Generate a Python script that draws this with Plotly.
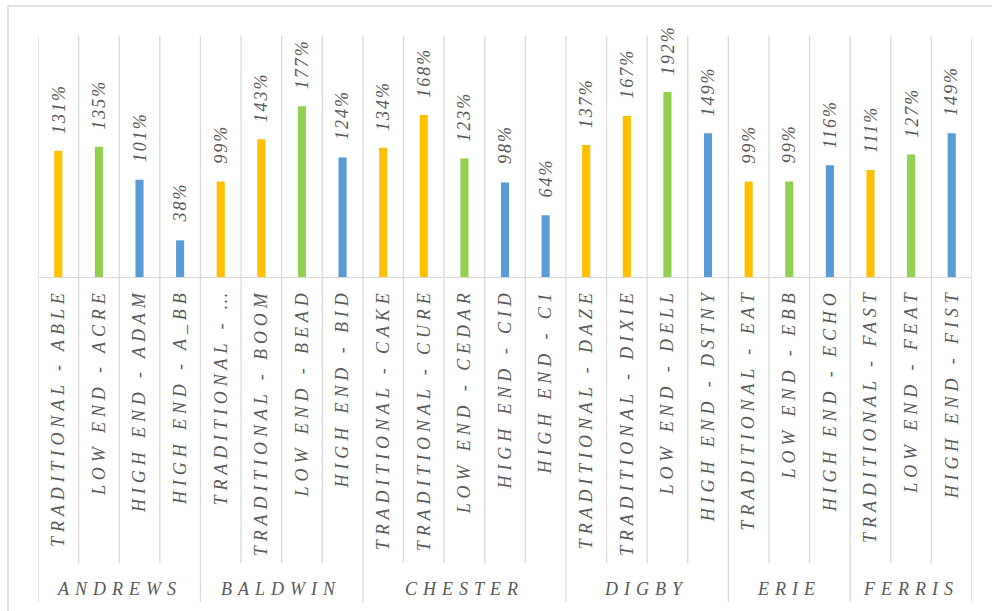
import plotly.graph_objects as go

# ---- data ----
groups = ["ANDREWS", "BALDWIN", "CHESTER", "DIGBY", "ERIE", "FERRIS"]
group_sizes = [4, 4, 5, 4, 3, 3]
products = [
    "TRADITIONAL - ABLE", "LOW END - ACRE", "HIGH END - ADAM", "HIGH END - A_BB",
    "TRADITIONAL - …", "TRADITIONAL - BOOM", "LOW END - BEAD", "HIGH END - BID",
    "TRADITIONAL - CAKE", "TRADITIONAL - CURE", "LOW END - CEDAR", "HIGH END - CID", "HIGH END - C1",
    "TRADITIONAL - DAZE", "TRADITIONAL - DIXIE", "LOW END - DELL", "HIGH END - DSTNY",
    "TRADITIONAL - EAT", "LOW END - EBB", "HIGH END - ECHO",
    "TRADITIONAL - FAST", "LOW END - FEAT", "HIGH END - FIST",
]
values = [1.31, 1.35, 1.01, 0.38,
          0.99, 1.43, 1.77, 1.24,
          1.34, 1.68, 1.23, 0.98, 0.64,
          1.37, 1.67, 1.92, 1.49,
          0.99, 0.99, 1.16,
          1.11, 1.27, 1.49]

seg_colors = {"TRADITIONAL": "#FFC000", "LOW END": "#92D050", "HIGH END": "#5B9BD5"}
colors = [seg_colors[p.split(" - ")[0]] for p in products]

FONT = "Times New Roman"
GRAY = "#595959"
LINE = "#D9D9D9"

W, H = 992, 611
L, R, T, B = 38, 20, 36, 334
plot_h = H - T - B  # px


def py(pix):
    """pixel row -> paper y"""
    return (H - B - pix) / plot_h


fig = go.Figure()
fig.add_trace(go.Bar(
    x=products, y=values, marker=dict(color=colors, line=dict(width=0)),
    width=0.2, hoverinfo="skip",
))

annotations = []
# data labels
for p, v in zip(products, values):
    annotations.append(dict(
        x=p, y=v, xref="x", yref="y", text=f"{round(v*100)}%", textangle=-90,
        showarrow=False, yanchor="bottom", xanchor="center", yshift=19,
        font=dict(family=FONT, size=18, color=GRAY, style="italic"),
    ))

shapes = []
n = len(products)
boundaries = set()
pos = 0
boundaries.add(-0.5)
for s in group_sizes:
    pos += s
    boundaries.add(pos - 0.5)
for i in range(n + 1):
    xb = i - 0.5
    y1 = py(602) if xb in boundaries else py(563)
    shapes.append(dict(type="line", xref="x", yref="paper", x0=xb, x1=xb,
                       y0=1, y1=y1, line=dict(color=LINE, width=1.3)))

# group labels
start = 0
for g, s in zip(groups, group_sizes):
    c = start + (s - 1) / 2
    annotations.append(dict(
        x=c, y=py(589), xref="x", yref="paper", text=g, showarrow=False,
        xanchor="center", yanchor="middle",
        font=dict(family=FONT, size=18, color=GRAY, style="italic"),
    ))
    start += s

# outer chart border
shapes.append(dict(type="rect", xref="paper", yref="paper",
                   x0=(8 - L) / (W - L - R), x1=1.1, y0=py(700), y1=py(6),
                   line=dict(color=LINE, width=1.3), layer="below"))

fig.update_layout(
    width=W, height=H, margin=dict(l=L, r=R, t=T, b=B),
    paper_bgcolor="white", plot_bgcolor="white", showlegend=False,
    font=dict(family=FONT),
    annotations=annotations, shapes=shapes,
    xaxis=dict(type="category", range=[-0.5, n - 0.5], showgrid=False,
               showline=True, linecolor=LINE, linewidth=1.3, ticks="",
               tickangle=-90, ticklabelstandoff=3,
               tickfont=dict(family=FONT, size=18, color=GRAY, style="italic"),
               fixedrange=True),
    yaxis=dict(range=[0, 2.5], visible=False, showgrid=False, fixedrange=True),
)

post = """
var gd = document.getElementById('{plot_id}');
function spacing(){
  gd.querySelectorAll('.xtick text').forEach(function(t){ t.setAttribute('letter-spacing','4.9px'); });
  gd.querySelectorAll('.annotation-text').forEach(function(t){
    if (/%$/.test(t.textContent)) { t.setAttribute('letter-spacing','2px'); }
    else { t.setAttribute('letter-spacing','6px'); }
  });
}
spacing();
gd.on('plotly_afterplot', spacing);
"""

fig.write_html("out.html", post_script=post, config={"displayModeBar": False})
